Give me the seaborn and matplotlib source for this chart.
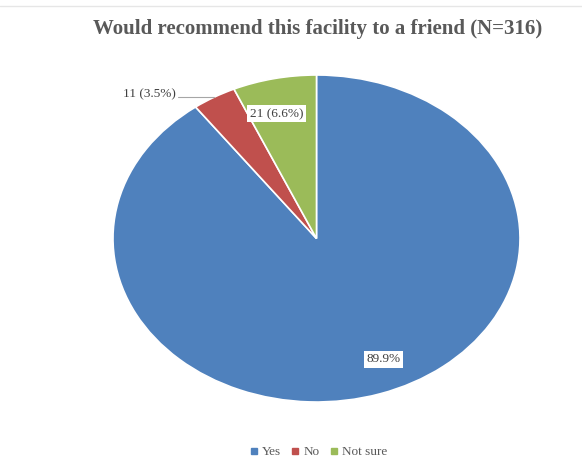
import numpy as np
import matplotlib
matplotlib.use("Agg")
import matplotlib.pyplot as plt
import seaborn as sns
from matplotlib.lines import Line2D

# data
categories = ["Yes", "No", "Not sure"]
counts = [284, 11, 21]
percents = [89.9, 3.5, 6.6]
colors = ["#4F81BD", "#C0504D", "#9BBB59"]

sns.set_theme(style="white")
plt.rcParams['font.family'] = ['Liberation Serif', 'DejaVu Serif']

fig = plt.figure(figsize=(5.82, 4.66), dpi=100)
ax = fig.add_axes([113 / 582, 1 - 402 / 466, 407 / 582, 327 / 466])

wedges, _ = ax.pie(counts, colors=colors, startangle=90, counterclock=False,
                   wedgeprops=dict(edgecolor="white", linewidth=1.2))
ax.set_aspect("auto")
ax.set_xlim(-1, 1)
ax.set_ylim(-1, 1)
ax.axis("off")

# label positions from wedge mid angles
mids = [np.deg2rad((w.theta1 + w.theta2) / 2) for w in wedges]
box = dict(boxstyle="square,pad=0.2", fc="white", ec="none")
txt = dict(fontsize=9.5, color="#404040", ha="center", va="center")

# Yes - inside
r = 0.8
ax.text(r * np.cos(mids[0]) + 0.08, r * np.sin(mids[0]) + 0.02,
        f"{percents[0]}%", bbox=box, **txt)
# Not sure - inside
ax.text(r * np.cos(mids[2]) - 0.03, r * np.sin(mids[2]) - 0.02,
        f"{counts[2]} ({percents[2]}%)", bbox=box, **txt)
# No - outside with leader line
ex, ey = np.cos(mids[1]), np.sin(mids[1])
ax.plot([ex - 0.18, ex], [ey, ey], color="#A6A6A6", lw=0.8, clip_on=False)
ax.text(ex - 0.19, ey + 0.015, f"{counts[1]} ({percents[1]}%)",
        fontsize=9.5, color="#404040", ha="right", va="center")

fig.text(0.545, 0.937, "Would recommend this facility to a friend (N=316)",
         ha="center", va="center", fontsize=15, fontweight="bold", color="#595959")

handles = [Line2D([], [], marker="s", ls="none", color=c, markersize=4) for c in colors]
fig.legend(handles, categories, loc="center", bbox_to_anchor=(0.545, 0.03), ncol=3,
           frameon=False, fontsize=9.5, handletextpad=0.1, columnspacing=0.6,
           handlelength=1.0, labelcolor="#595959")

fig.add_artist(Line2D([0, 1], [0.988, 0.988], color="#E6E6E6", lw=1))

fig.savefig("out.png", dpi=100)
